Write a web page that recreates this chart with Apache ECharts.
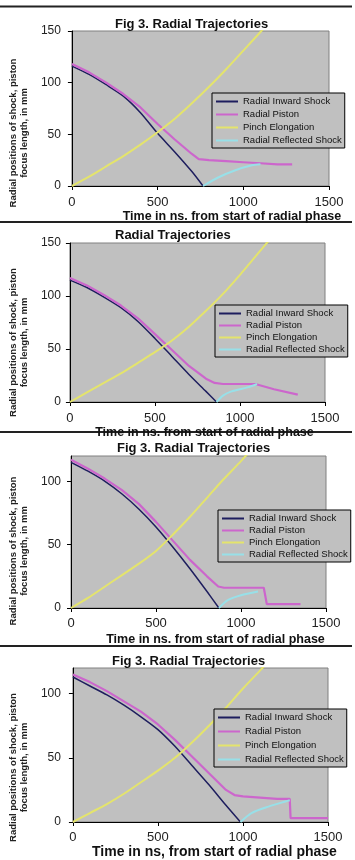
<!DOCTYPE html>
<html>
<head>
<meta charset="utf-8">
<script src="https://cdn.jsdelivr.net/npm/echarts@6/dist/echarts.min.js"></script>
<style>
html,body{margin:0;padding:0;background:#fff}
#main{width:355px;height:860px}
</style>
</head>
<body>
<div id="main"></div>
<script>
const seriesNames = ['Radial Inward Shock', 'Radial Piston', 'Pinch Elongation', 'Radial Reflected Shock']
const xTicks = [0, 500, 1000, 1500]
const yTicksTall = [0, 50, 100, 150]
const yTicksShort = [0, 50, 100]

// [time ns, radius mm]
const shock1 = [[0,116],[100,108],[200,98],[300,87],[400,71],[500,51],[600,33],[700,14],[765,0]]
const piston1 = [[0,118],[100,110],[200,100],[300,89],[400,76],[500,60],[600,45],[700,31],[740,26],[800,25],[900,24],[1000,23],[1100,22],[1200,21],[1285,21]]
const pinch1 = [[0,0],[100,9],[200,19],[300,29],[400,40],[500,52],[600,65],[700,80],[800,96],[900,113],[1000,131],[1100,149],[1200,168]]
const reflected1 = [[765,0],[850,8],[950,15],[1050,20],[1100,21]]

const shock2 = [[0,115],[100,108],[200,99],[300,89],[400,76],[500,60],[600,43],[700,26],[800,10],[862,0]]
const piston2 = [[0,117],[100,110],[200,101],[300,91],[400,79],[500,64],[600,49],[700,34],[800,22],[851,18],[900,17],[1000,17],[1090,17],[1200,12],[1340,7]]
const pinch2 = [[0,0],[100,9],[200,18],[300,27],[400,37],[500,47],[600,58],[700,71],[800,86],[900,102],[1000,120],[1100,139],[1200,158]]
const reflected2 = [[862,0],[900,6],[950,10],[1050,14],[1100,17]]

const shock3 = [[0,115],[100,108],[200,100],[300,90],[400,78],[500,64],[600,48],[700,31],[800,13],[870,0]]
const piston3 = [[0,117],[100,110],[200,102],[300,93],[400,82],[500,68],[600,53],[700,38],[800,25],[866,17],[900,16],[1000,16],[1134,16],[1152,3],[1200,3],[1350,3]]
const pinch3 = [[0,0],[100,8],[200,17],[300,26],[400,35],[500,45],[600,58],[700,72],[800,87],[900,102],[1000,116],[1100,131]]
const reflected3 = [[870,0],[920,6],[1000,10],[1100,13]]

const shock4 = [[0,113],[100,106],[200,99],[300,91],[400,82],[500,72],[600,59],[700,44],[800,29],[900,13],[985,0]]
const piston4 = [[0,115],[100,109],[200,102],[300,94],[400,86],[500,76],[600,64],[700,51],[800,38],[900,25],[950,21],[1000,20],[1100,19],[1200,18],[1275,18],[1280,3],[1400,3],[1500,3]]
const pinch4 = [[0,0],[100,7],[200,14],[300,22],[400,31],[500,40],[600,50],[700,62],[800,75],[900,89],[1000,104],[1100,118],[1200,132]]
const reflected4 = [[985,0],[1050,7],[1150,12],[1250,16],[1275,17]]

const panelData = [
    [shock1, piston1, pinch1, reflected1],
    [shock2, piston2, pinch2, reflected2],
    [shock3, piston3, pinch3, reflected3],
    [shock4, piston4, pinch4, reflected4]
]

const colors = ['#1e1e5e', '#cc66cc', '#e4e46c', '#98e0e8']
const widths = [1.5, 2.2, 2, 2]
// piston has sharp steps, keep it straight
const smoothing = [0.25, 0, 0.25, 0.25]
const font = 'Liberation Sans'

const panels = [
    {title: 'Fig 3. Radial Trajectories', titleLeft: 115, titleTop: 17.5,
     grid: {left: 58, top: 31, width: 271, height: 155}, yMax: 150, yTicks: yTicksTall,
     legend: {left: 212, top: 93, gap: 2},
     xName: 'Time in ns. from start of radial phase', xNameSize: 12.5, xNameGap: 22, xNamePad: 63,
     yNameGap: 34, yNamePad: 49, yMargin: 11, xMargin: 10},
    {title: 'Radial Trajectories', titleLeft: 115, titleTop: 229,
     grid: {left: 54, top: 243, width: 271, height: 159}, yMax: 150, yTicks: yTicksTall,
     legend: {left: 215, top: 305, gap: 1},
     xName: 'Time in ns. from start of radial phase', xNameSize: 12.5, xNameGap: 21, xNamePad: 14,
     yNameGap: 30, yNamePad: 40, yMargin: 9, xMargin: 10},
    {title: 'Fig 3. Radial Trajectories', titleLeft: 117, titleTop: 441.5,
     grid: {left: 68, top: 456, width: 258, height: 152}, yMax: 120, yTicks: yTicksShort,
     legend: {left: 218, top: 510, gap: 1},
     xName: 'Time in ns. from start of radial phase', xNameSize: 12.5, xNameGap: 25, xNamePad: 34,
     yNameGap: 41, yNamePad: 38, yMargin: 10, xMargin: 9},
    {title: 'Fig 3. Radial Trajectories', titleLeft: 112, titleTop: 654.5,
     grid: {left: 55, top: 668, width: 273, height: 157}, yMax: 120, yTicks: yTicksShort,
     legend: {left: 214, top: 709, gap: 3},
     xName: 'Time in ns, from start of radial phase', xNameSize: 14, xNameGap: 23, xNamePad: 28,
     yNameGap: 31, yNamePad: 45, yMargin: 12, xMargin: 9}
]

const option = {
    animation: false,
    backgroundColor: '#fff',
    textStyle: {fontFamily: font},
    title: [], grid: [], xAxis: [], yAxis: [], legend: [], series: [],
    graphic: [6.5, 222, 432, 646].map(y => ({
        type: 'line', shape: {x1: 0, y1: y, x2: 352, y2: y},
        style: {stroke: '#222', lineWidth: 2}
    }))
}

panels.forEach((p, i) => {
    option.title.push({
        text: p.title, left: p.titleLeft, top: p.titleTop, padding: 0,
        textStyle: {fontFamily: font, fontSize: 13, fontWeight: 'bold', color: '#111'}
    })
    option.grid.push(Object.assign({
        show: true, backgroundColor: '#c0c0c0', borderColor: '#808080', borderWidth: 1
    }, p.grid))
    option.xAxis.push({
        type: 'value', gridIndex: i, min: 0, max: 1500, interval: 500,
        name: p.xName, nameLocation: 'middle', nameGap: p.xNameGap,
        nameTextStyle: {fontFamily: font, fontSize: p.xNameSize, fontWeight: 'bold', color: '#111', padding: [0, 0, 0, p.xNamePad]},
        axisLine: {lineStyle: {color: '#000', width: 1}},
        axisTick: {show: true, length: 4, lineStyle: {color: '#000'}, customValues: xTicks},
        axisLabel: {fontFamily: font, fontSize: 13, color: '#222', margin: p.xMargin, customValues: xTicks,
                    formatter: v => String(v)},
        splitLine: {show: false}
    })
    option.yAxis.push({
        type: 'value', gridIndex: i, min: 0, max: p.yMax, interval: 50,
        name: 'Radial positions of shock, piston\nfocus length, in mm',
        nameLocation: 'middle', nameRotate: 90, nameGap: p.yNameGap,
        nameTextStyle: {fontFamily: font, fontSize: 9.5, fontWeight: 'bold', color: '#222', lineHeight: 11, padding: [0, p.yNamePad, 0, 0]},
        axisLine: {show: true, lineStyle: {color: '#000', width: 1}},
        axisTick: {show: true, length: 4, lineStyle: {color: '#000'}, customValues: p.yTicks},
        axisLabel: {fontFamily: font, fontSize: 12, color: '#222', margin: p.yMargin, customValues: p.yTicks,
                    formatter: v => String(v)},
        splitLine: {show: false}
    })
    option.legend.push({
        orient: 'vertical', left: p.legend.left, top: p.legend.top,
        data: seriesNames, icon: 'rect', itemWidth: 22, itemHeight: 2, itemGap: p.legend.gap,
        padding: [3, 3, 2, 4], backgroundColor: '#c0c0c0', borderColor: '#000', borderWidth: 1,
        borderRadius: 0, selectedMode: false,
        textStyle: {fontFamily: font, fontSize: 9.5, color: '#111', lineHeight: 11}
    })
    panelData[i].forEach((d, k) => {
        option.series.push({
            name: seriesNames[k], type: 'line', xAxisIndex: i, yAxisIndex: i,
            data: d, showSymbol: false, symbol: 'none', smooth: smoothing[k],
            lineStyle: {color: colors[k], width: widths[k]},
            itemStyle: {color: colors[k]}
        })
    })
})

const chart = echarts.init(document.getElementById('main'))
chart.setOption(option)
</script>
</body>
</html>
